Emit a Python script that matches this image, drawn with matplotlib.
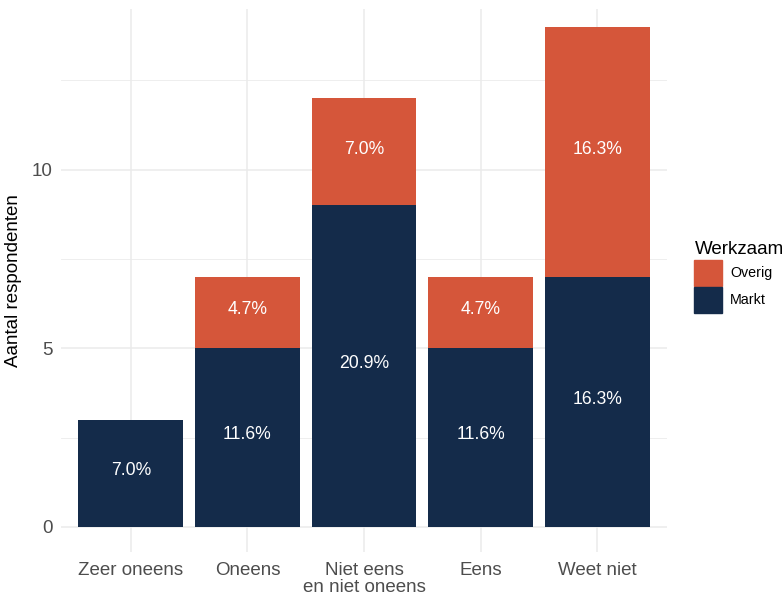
import matplotlib.pyplot as plt
import numpy as np
from matplotlib.patches import Patch

plt.rcParams['font.family'] = ['Liberation Sans', 'DejaVu Sans']

categories = ['Zeer oneens', 'Oneens', 'Niet eens\nen niet oneens', 'Eens', 'Weet niet']
markt = [3, 5, 9, 5, 7]
overig = [0, 2, 3, 2, 7]
total = sum(markt) + sum(overig)

navy = '#142B4A'
orange = '#D5563A'
grid_col = '#EBEBEB'

fig = plt.figure(figsize=(7.84, 5.96), dpi=100)
ax = fig.add_axes([61 / 784, 44 / 596, 606 / 784, 543 / 596])

x = np.arange(len(categories)) + 1
ax.bar(x, markt, width=0.9, color=navy, zorder=2)
ax.bar(x, overig, width=0.9, bottom=markt, color=orange, zorder=2)

for xi, m, o in zip(x, markt, overig):
    ax.text(xi, m / 2 + 0.08, f'{100 * m / total:.1f}%', ha='center', va='center',
            color='white', fontsize=12.7, zorder=3)
    if o > 0:
        ax.text(xi, m + o / 2 + 0.08, f'{100 * o / total:.1f}%', ha='center', va='center',
                color='white', fontsize=12.7, zorder=3)

ax.set_xlim(0.4, 5.6)
ax.set_ylim(-0.7, 14.5)
ax.set_xticks(x)
ax.set_xticklabels(categories, linespacing=1.0)
ax.set_yticks([0, 5, 10])
ax.set_yticks([2.5, 7.5, 12.5], minor=True)
ax.tick_params(axis='both', which='both', length=0, labelsize=13.5, labelcolor='#4D4D4D')
ax.tick_params(axis='x', pad=7)
ax.tick_params(axis='y', pad=6)
ax.grid(which='major', color=grid_col, linewidth=1.1, zorder=0)
ax.grid(which='minor', axis='y', color=grid_col, linewidth=0.6, zorder=0)
for s in ax.spines.values():
    s.set_visible(False)
ax.set_ylabel('Aantal respondenten', fontsize=13.5, labelpad=7)

handles = [Patch(color=orange, label='Overig'), Patch(color=navy, label='Markt')]
leg = fig.legend(handles=handles, title='Werkzaam', loc='upper left',
                 bbox_to_anchor=(683 / 784, 1 - 230 / 596), frameon=False,
                 fontsize=10.3, title_fontsize=13.5, handlelength=1.9, handleheight=2.4,
                 labelspacing=0.1, handletextpad=0.6, alignment='left', borderpad=0.3)

fig.savefig('out.png', dpi=100)
